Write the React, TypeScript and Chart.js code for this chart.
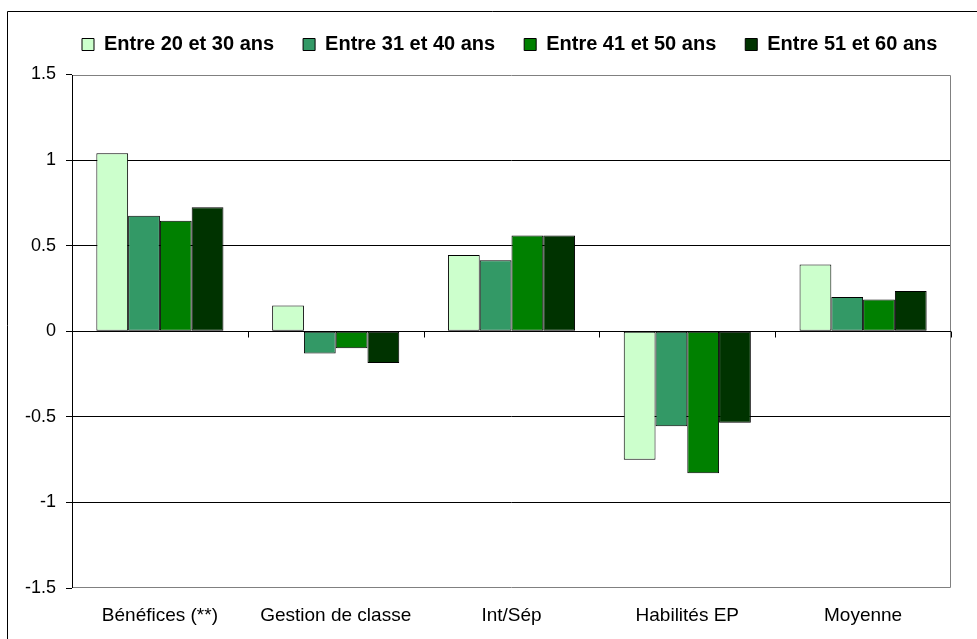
import React, { useEffect, useRef } from 'react';
import { Chart, registerables } from 'chart.js';

Chart.register(...registerables);

const categories = ['Bénéfices (**)', 'Gestion de classe', 'Int/Sép', 'Habilités EP', 'Moyenne'];
const seriesLabels = ['Entre 20 et 30 ans', 'Entre 31 et 40 ans', 'Entre 41 et 50 ans', 'Entre 51 et 60 ans'];
const age20to30 = [1.04, 0.15, 0.445, -0.75, 0.39];
const age31to40 = [0.675, -0.13, 0.415, -0.555, 0.2];
const age41to50 = [0.645, -0.1, 0.56, -0.83, 0.185];
const age51to60 = [0.725, -0.185, 0.56, -0.535, 0.235];
const yMin = -1.5;
const yMax = 1.5;
const yStep = 0.5;
const seriesColors = ['#CCFFCC', '#339966', '#008000', '#003300'];

const FONT = '"Liberation Sans", Arial, sans-serif';

const LEGEND_SHIFT = 33;
const LEGEND_EXTRA_HEIGHT = 10;

const legendTweak = {
  id: 'legendTweak',
  beforeInit(chart: any) {
    const lg = chart.legend;
    if (lg && !lg._patched) {
      const orig = lg.fit;
      lg.fit = function () {
        this.maxWidth = 3000;
        orig.call(this);
        this.height += LEGEND_EXTRA_HEIGHT;
      };
      lg._patched = true;
    }
  },
  afterLayout(chart: any) {
    const lg = chart.legend;
    if (lg) {
      lg.left += LEGEND_SHIFT;
      lg.right += LEGEND_SHIFT;
    }
  },
};

const framePlugin = {
  id: 'framePlugin',
  beforeDraw(chart: any) {
    const ctx = chart.ctx;
    ctx.save();
    ctx.strokeStyle = '#000';
    ctx.lineWidth = 1;
    ctx.beginPath();
    ctx.moveTo(7.5, 639);
    ctx.lineTo(7.5, 11.5);
    ctx.lineTo(977, 11.5);
    ctx.stroke();
    ctx.restore();
  },
  beforeDatasetsDraw(chart: any) {
    const { ctx, chartArea, scales } = chart;
    const { left, right, top, bottom } = chartArea;
    const x = scales.x;
    const y = scales.y;
    const L = Math.round(left) + 0.5;
    const R = Math.round(right) - 0.5;
    const T = Math.round(top) + 0.5;
    const B = Math.round(bottom) - 0.5;
    ctx.save();
    ctx.lineWidth = 1;
    ctx.strokeStyle = '#808080';
    ctx.beginPath();
    ctx.moveTo(L, T);
    ctx.lineTo(R, T);
    ctx.lineTo(R, B);
    ctx.lineTo(L, B);
    ctx.stroke();
    ctx.strokeStyle = '#000';
    ctx.beginPath();
    ctx.moveTo(L, T - 0.5);
    ctx.lineTo(L, B + 0.5);
    ctx.stroke();
    const y0 = Math.round(y.getPixelForValue(0)) + 0.5;
    ctx.beginPath();
    ctx.moveTo(L, y0);
    ctx.lineTo(R + 0.5, y0);
    const n = categories.length;
    const half = (x.getPixelForValue(1) - x.getPixelForValue(0)) / 2;
    for (let i = 0; i <= n; i++) {
      const px = i < n ? x.getPixelForValue(i) - half : x.getPixelForValue(n - 1) + half;
      const xx = Math.round(px) + 0.5;
      ctx.moveTo(xx, y0);
      ctx.lineTo(xx, y0 + 6);
    }
    ctx.stroke();
    ctx.restore();
  },
};

export default function App() {
  const ref = useRef<HTMLCanvasElement | null>(null);

  useEffect(() => {
    if (!ref.current) return;
    const series = [age20to30, age31to40, age41to50, age51to60];
    const chart = new Chart(ref.current, {
      type: 'bar',
      data: {
        labels: categories,
        datasets: series.map((d, i) => ({
          label: seriesLabels[i],
          data: d,
          backgroundColor: seriesColors[i],
          borderColor: '#000',
          borderWidth: 1,
          borderSkipped: false,
          categoryPercentage: 0.723,
          barPercentage: 1,
        })),
      },
      options: {
        responsive: false,
        animation: false,
        devicePixelRatio: 1,
        layout: { padding: { left: 20, right: 26, top: 5.5, bottom: 0 } },
        plugins: {
          tooltip: { enabled: false },
          legend: {
            display: true,
            position: 'top',
            align: 'start',
            labels: {
              boxWidth: 12,
              boxHeight: 12,
              padding: 29,
              color: '#000',
              font: { family: FONT, size: 20, weight: 'bold' },
            },
          },
        },
        scales: {
          x: {
            type: 'category',
            offset: true,
            grid: { display: false, drawTicks: false },
            border: { display: false },
            ticks: {
              color: '#000',
              font: { family: FONT, size: 19 },
              padding: 16,
              maxRotation: 0,
              autoSkip: false,
            },
            afterFit(scale: any) {
              scale.height = 51;
            },
          },
          y: {
            min: yMin,
            max: yMax,
            grid: {
              color: (c: any) => {
                const v = c.tick ? c.tick.value : 0;
                if (Math.abs(v - yMin) < 1e-9 || Math.abs(v - yMax) < 1e-9) return 'rgba(0,0,0,0)';
                return '#000';
              },
              tickColor: '#000',
              tickLength: 6,
              lineWidth: 1,
            },
            border: { display: false },
            ticks: {
              stepSize: yStep,
              color: '#000',
              font: { family: FONT, size: 18 },
              padding: 10,
              callback: (v: any) => String(v),
            },
            afterFit(scale: any) {
              scale.width = 52;
            },
          },
        },
      },
      plugins: [legendTweak, framePlugin],
    } as any);
    return () => chart.destroy();
  }, []);

  return (
    <canvas
      ref={ref}
      width={977}
      height={639}
      style={{ position: 'absolute', left: 0, top: 0, width: 977, height: 639 }}
    />
  );
}
